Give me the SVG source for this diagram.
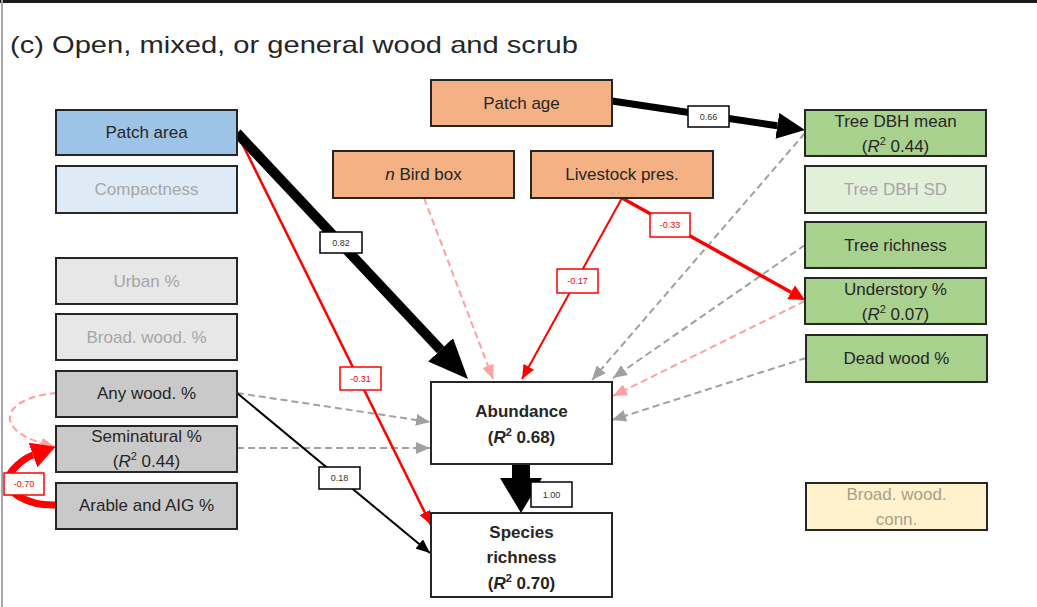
<svg xmlns="http://www.w3.org/2000/svg" width="1037" height="607" viewBox="0 0 1037 607">
<style>
.n rect{stroke:#262626;stroke-width:2}
.t{font-family:"Liberation Sans",Arial,sans-serif;font-size:17px;fill:#262626;text-anchor:middle}
.g{fill:#a6a6a6}
.y{fill:#a8a08a}
.b{font-weight:bold}
.lb rect{fill:#fff;stroke:#000;stroke-width:1.5}
.lb text{font-family:"Liberation Sans",Arial,sans-serif;font-size:9px;fill:#333;text-anchor:middle}
.lr rect{fill:#fff;stroke:#ff0000;stroke-width:1.5}
.lr text{font-family:"Liberation Sans",Arial,sans-serif;font-size:9px;fill:#ff0000;text-anchor:middle}
.e{fill:none}
.gd{stroke:#a0a0a0;stroke-width:2;stroke-dasharray:7 4}
.pd{stroke:#ff9f9f;stroke-width:2;stroke-dasharray:7 4}
</style>
<defs>
<marker id="mg" markerUnits="userSpaceOnUse" markerWidth="14" markerHeight="12" refX="14" refY="6" orient="auto"><path d="M0,0L14,6L0,12z" fill="#a0a0a0"/></marker>
<marker id="mp" markerUnits="userSpaceOnUse" markerWidth="14" markerHeight="12" refX="14" refY="6" orient="auto"><path d="M0,0L14,6L0,12z" fill="#ff9f9f"/></marker>
<marker id="mr" markerUnits="userSpaceOnUse" markerWidth="14" markerHeight="12" refX="14" refY="6" orient="auto"><path d="M0,0L14,6L0,12z" fill="#ff0000"/></marker>
<marker id="mk" markerUnits="userSpaceOnUse" markerWidth="14" markerHeight="12" refX="14" refY="6" orient="auto"><path d="M0,0L14,6L0,12z" fill="#000"/></marker>
<marker id="mrm" markerUnits="userSpaceOnUse" markerWidth="16" markerHeight="16" refX="0" refY="8" orient="auto"><path d="M0,0L16,8L0,16z" fill="#ff0000"/></marker>
<marker id="mrb" markerUnits="userSpaceOnUse" markerWidth="24" markerHeight="26" refX="0" refY="13" orient="auto"><path d="M0,0L24,13L0,26z" fill="#ff0000"/></marker>
<marker id="mb1" markerUnits="userSpaceOnUse" markerWidth="40" markerHeight="34" refX="0" refY="17" orient="auto"><path d="M0,0L40,17L0,34z" fill="#000"/></marker>
<marker id="mb2" markerUnits="userSpaceOnUse" markerWidth="28" markerHeight="26" refX="0" refY="13" orient="auto"><path d="M0,0L28,13L0,26z" fill="#000"/></marker>
<marker id="mb3" markerUnits="userSpaceOnUse" markerWidth="35" markerHeight="42" refX="0" refY="21" orient="auto"><path d="M0,0L35,21L0,42z" fill="#000"/></marker>
</defs>
<rect width="1037" height="607" fill="#fff"/>
<line x1="0" y1="1.5" x2="1037" y2="1.5" stroke="#1a1a1a" stroke-width="3"/>
<line x1="2" y1="0" x2="2" y2="607" stroke="#a6a6a6" stroke-width="2"/>
<text x="10" y="53" font-family="Liberation Sans,Arial,sans-serif" font-size="24" fill="#262626" textLength="568" lengthAdjust="spacingAndGlyphs">(c) Open, mixed, or general wood and scrub</text>

<g id="connectors">
<path class="e pd" d="M57,393 C30,395 8,405 10,420 C12,432 30,441 55,447" marker-end="url(#mp)"/>
<path class="e" d="M56,505 C28,506 4,492 8,478 C10,471 22,459 33,455" stroke="#ff0000" stroke-width="7" marker-end="url(#mrb)"/>
<path class="e pd" d="M424,198 L493,379" marker-end="url(#mp)"/>
<path class="e gd" d="M805,133 L592,380" marker-end="url(#mg)"/>
<path class="e gd" d="M805,245 L613,378" marker-end="url(#mg)"/>
<path class="e pd" d="M805,301 L613,396" marker-end="url(#mp)"/>
<path class="e gd" d="M806,358 L612,420" marker-end="url(#mg)"/>
<path class="e gd" d="M237,393 L430,422" marker-end="url(#mg)"/>
<path class="e gd" d="M237,448 L430,448" marker-end="url(#mg)"/>
<path class="e" d="M237,393 L430,553" stroke="#000" stroke-width="2" marker-end="url(#mk)"/>
<path class="e" d="M237,133 L431,525" stroke="#ff0000" stroke-width="2.5" marker-end="url(#mr)"/>
<path class="e" d="M622,198 L522,379" stroke="#ff0000" stroke-width="2" marker-end="url(#mr)"/>
<path class="e" d="M622,198 L791,292.2" stroke="#ff0000" stroke-width="3.5" marker-end="url(#mrm)"/>
<path class="e" d="M237,133 L440.6,349.8" stroke="#000" stroke-width="10" marker-end="url(#mb1)"/>
<path class="e" d="M612,101 L777.3,125.8" stroke="#000" stroke-width="7" marker-end="url(#mb2)"/>
<path class="e" d="M521,464 L521,478" stroke="#000" stroke-width="18" marker-end="url(#mb3)"/>
<g class="lb"><rect x="320" y="232" width="42" height="21"/><text x="341" y="246">0.82</text></g>
<g class="lr"><rect x="340" y="367" width="41" height="23"/><text x="360.5" y="382">-0.31</text></g>
<g class="lb"><rect x="688" y="106" width="41" height="21"/><text x="708.5" y="120">0.66</text></g>
<g class="lr"><rect x="557" y="269" width="41" height="24"/><text x="577.5" y="284">-0.17</text></g>
<g class="lr"><rect x="650" y="213" width="40" height="24"/><text x="670" y="228">-0.33</text></g>
<g class="lb"><rect x="319" y="467" width="41" height="22"/><text x="339.5" y="481">0.18</text></g>
<g class="lb"><rect x="531" y="482" width="41" height="25"/><text x="551.5" y="498">1.00</text></g>
<g class="lr"><rect x="4" y="473" width="40" height="22"/><text x="24" y="487">-0.70</text></g>
</g>

<g id="patch-area" class="n"><rect x="56" y="110" width="181" height="45" fill="#9dc3e6"/><text class="t" x="146.5" y="138">Patch area</text></g>
<g id="compactness" class="n"><rect x="56" y="166" width="181" height="47" fill="#deebf7"/><text class="t g" x="146.5" y="195">Compactness</text></g>
<g id="urban" class="n"><rect x="56" y="258" width="181" height="46" fill="#e7e7e7"/><text class="t g" x="146.5" y="287">Urban %</text></g>
<g id="broad-wood" class="n"><rect x="56" y="314" width="181" height="46" fill="#e7e7e7"/><text class="t g" x="146.5" y="343">Broad. wood. %</text></g>
<g id="any-wood" class="n"><rect x="56" y="371" width="181" height="46" fill="#c9c9c9"/><text class="t" x="146.5" y="399">Any wood. %</text></g>
<g id="seminatural" class="n"><rect x="56" y="426" width="181" height="46" fill="#c9c9c9"/><text class="t" x="146.5" y="442">Seminatural %</text><text class="t" x="146.5" y="467">(<tspan font-style="italic">R</tspan><tspan font-size="11" dy="-7">2</tspan><tspan dy="7"> 0.44)</tspan></text></g>
<g id="arable" class="n"><rect x="56" y="483" width="181" height="46" fill="#c9c9c9"/><text class="t" x="146.5" y="511">Arable and AIG %</text></g>

<g id="patch-age" class="n"><rect x="431" y="80" width="181" height="46" fill="#f4b183"/><text class="t" x="521.5" y="109">Patch age</text></g>
<g id="bird-box" class="n"><rect x="333" y="151" width="181" height="47" fill="#f4b183"/><text class="t" x="423.5" y="180"><tspan font-style="italic">n</tspan> Bird box</text></g>
<g id="livestock" class="n"><rect x="531" y="151" width="182" height="47" fill="#f4b183"/><text class="t" x="622" y="180">Livestock pres.</text></g>
<g id="abundance" class="n"><rect x="431" y="382" width="181" height="82" fill="#fff"/><text class="t b" x="521.5" y="417">Abundance</text><text class="t b" x="521.5" y="443">(<tspan font-style="italic">R</tspan><tspan font-size="11" dy="-7">2</tspan><tspan dy="7"> 0.68)</tspan></text></g>
<g id="species-richness" class="n"><rect x="431" y="513" width="181" height="84" fill="#fff"/><text class="t b" x="521.5" y="538">Species</text><text class="t b" x="521.5" y="563">richness</text><text class="t b" x="521.5" y="589">(<tspan font-style="italic">R</tspan><tspan font-size="11" dy="-7">2</tspan><tspan dy="7"> 0.70)</tspan></text></g>

<g id="tree-dbh-mean" class="n"><rect x="805" y="110" width="181" height="46" fill="#a9d18e"/><text class="t" x="895.5" y="127">Tree DBH mean</text><text class="t" x="895.5" y="152">(<tspan font-style="italic">R</tspan><tspan font-size="11" dy="-7">2</tspan><tspan dy="7"> 0.44)</tspan></text></g>
<g id="tree-dbh-sd" class="n"><rect x="805" y="166" width="181" height="47" fill="#e2f0d9"/><text class="t g" x="895.5" y="195">Tree DBH SD</text></g>
<g id="tree-richness" class="n"><rect x="805" y="222" width="181" height="46" fill="#a9d18e"/><text class="t" x="895.5" y="251">Tree richness</text></g>
<g id="understory" class="n"><rect x="805" y="278" width="181" height="46" fill="#a9d18e"/><text class="t" x="895.5" y="295">Understory %</text><text class="t" x="895.5" y="320">(<tspan font-style="italic">R</tspan><tspan font-size="11" dy="-7">2</tspan><tspan dy="7"> 0.07)</tspan></text></g>
<g id="dead-wood" class="n"><rect x="806" y="335" width="181" height="47" fill="#a9d18e"/><text class="t" x="896.5" y="364">Dead wood %</text></g>
<g id="broad-wood-conn" class="n"><rect x="806" y="483" width="181" height="47" fill="#fff2cc"/><text class="t y" x="896.5" y="500">Broad. wood.</text><text class="t y" x="896.5" y="525">conn.</text></g>
</svg>
